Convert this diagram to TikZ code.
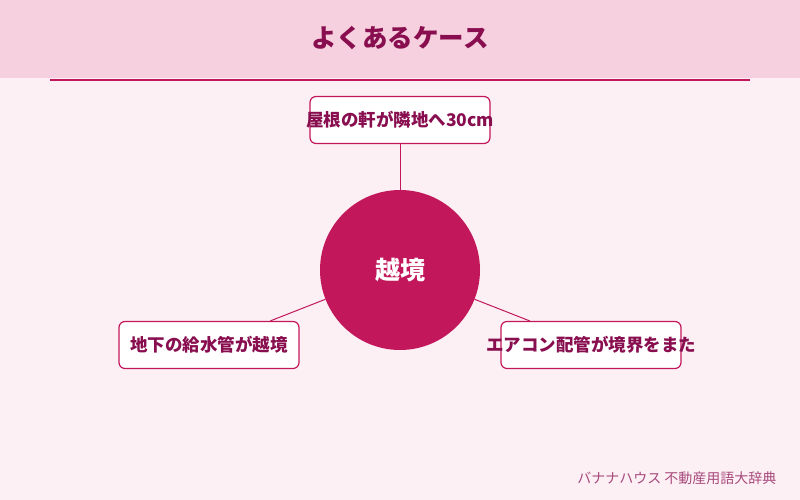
\documentclass[tikz,border=0pt]{standalone}
\usepackage{fontspec}
\setmainfont{Noto Sans CJK JP}
\begin{document}
\begin{tikzpicture}[x=1pt,y=-1pt,
  box/.style={draw=mag,line width=1.2pt,rounded corners=6pt,fill=white,minimum width=180pt,minimum height=47pt,inner sep=0pt},
  lbl/.style={font=\fontsize{17.5}{17.5}\selectfont\bfseries,text=dark,inner sep=0pt},
  conn/.style={draw=mag,line width=1pt}]
\definecolor{mag}{HTML}{C2185B}
\definecolor{dark}{HTML}{880E4F}
\definecolor{bg}{HTML}{FDF0F5}
\definecolor{hdr}{HTML}{F6D0DF}
\useasboundingbox (0,0) rectangle (800,500);
\fill[bg] (0,0) rectangle (800,500);
\fill[hdr] (0,0) rectangle (800,78);
\node[font=\fontsize{25.5}{25.5}\selectfont\bfseries,text=dark] (title) at (400,38) {よくあるケース};
\draw[mag,line width=1.2pt] (50,80) coordinate (l1) -- (750,80) coordinate (l2);
\node[circle,fill=mag,minimum size=160pt,inner sep=0pt,text=white,font=\fontsize{25}{25}\selectfont\bfseries] (c) at (400,270) {越境};
\node[box] (t) at (400,120) {};
\node[box] (l) at (209,345) {};
\node[box] (r) at (591,345) {};
\node[lbl] (tt) at (t) {屋根の軒が隣地へ30cm};
\node[lbl] (lt) at (l) {地下の給水管が越境};
\node[lbl] (rt) at (r) {エアコン配管が境界をまた};
\draw[conn] (t) -- (c);
\draw[conn] (c) -- (l);
\draw[conn] (c) -- (r);
\node[anchor=east,font=\fontsize{14}{14}\selectfont,text=dark!75] (f) at (780,478) {バナナハウス 不動産用語大辞典};
\end{tikzpicture}
\end{document}
